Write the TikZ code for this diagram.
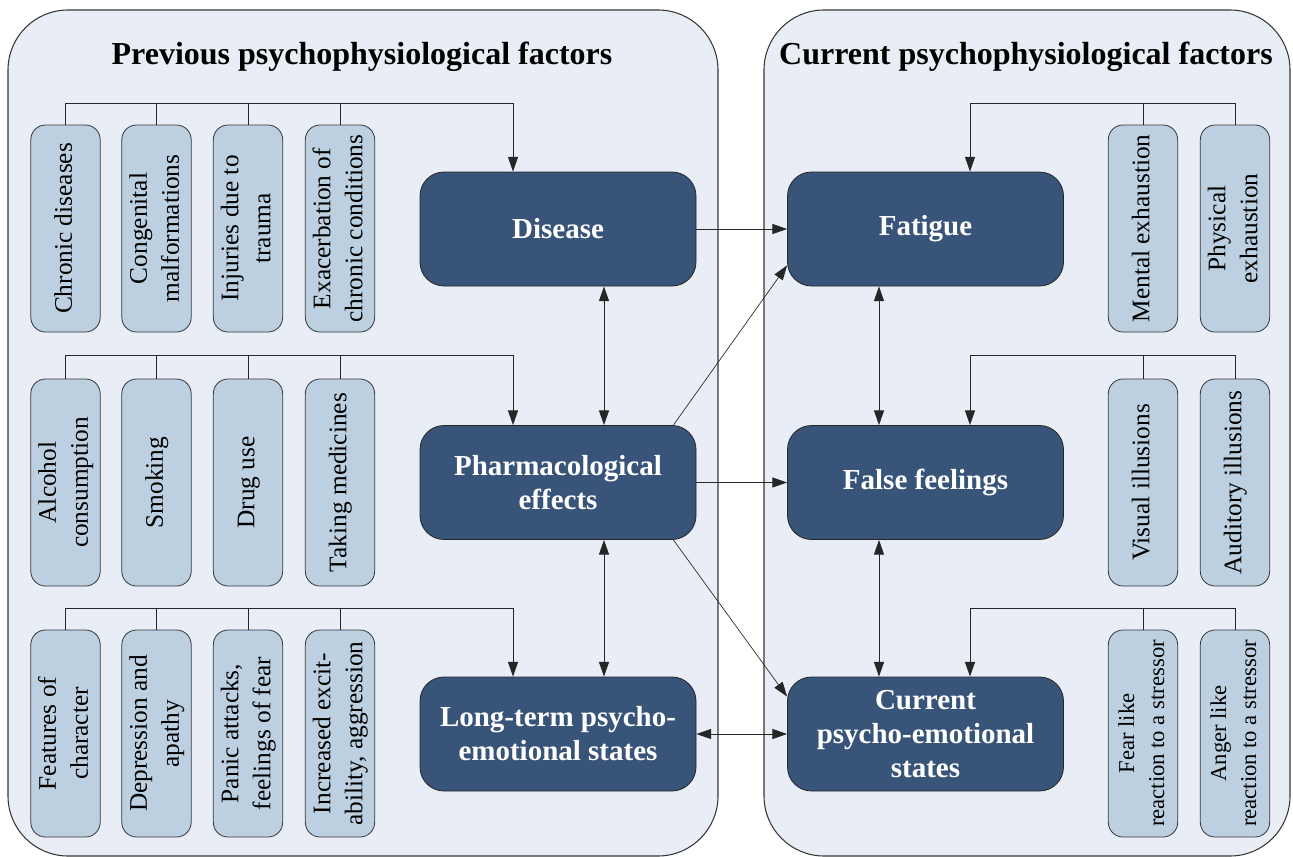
\documentclass[tikz,border=0pt]{standalone}
\usepackage{fontspec}
\setmainfont{Liberation Serif}
\usetikzlibrary{arrows.meta,calc}
\definecolor{panelfill}{RGB}{233,238,246}
\definecolor{darkfill}{RGB}{56,84,120}
\definecolor{lightfill}{RGB}{189,208,226}
\definecolor{edgecol}{RGB}{55,55,55}
\newcommand{\vtext}[1]{\rotatebox{90}{\begin{tabular}{@{}c@{}}#1\end{tabular}}}
\begin{document}
\begin{tikzpicture}[x=0.75pt,y=-0.75pt,
 panel/.style={draw=edgecol, line width=0.8pt, fill=panelfill, rounded corners=45pt},
 bigbox/.style={draw=black!85, line width=0.6pt, fill=darkfill, rounded corners=18pt,
   minimum width=207pt, minimum height=85.5pt, inner sep=0pt, align=center, text=white,
   font=\fontsize{21.75}{25.5}\selectfont\bfseries},
 smallbox/.style={draw=edgecol, line width=0.6pt, fill=lightfill, rounded corners=11pt,
   minimum width=52pt, minimum height=155.25pt, inner sep=0pt,
   font=\fontsize{19}{24}\selectfont},
 smallerbox/.style={smallbox, font=\fontsize{17}{22.5}\selectfont},
 conn/.style={draw=black!85, line width=0.7pt},
 arr/.style={conn, -{Triangle[length=11pt,width=7.5pt]}},
 darr/.style={conn, {Triangle[length=11pt,width=7.5pt]}-{Triangle[length=11pt,width=7.5pt]}},
 diag/.style={arr, line width=0.5pt},
 title/.style={font=\fontsize{24}{28}\selectfont\bfseries, anchor=base}
]
\useasboundingbox (0,0) rectangle (1293,857);
\fill[white] (0,0) rectangle (1293,857);
% panels
\draw[panel] (8,10) rectangle (718,856);
\draw[panel] (764,10) rectangle (1290,856);
\node[title] (t1) at (362,64) {Previous psychophysiological factors};
\node[title] (t2) at (1026,64) {Current psychophysiological factors};
% main boxes
\node[bigbox] (disease) at (558,229) {Disease};
\node[bigbox] (pharm) at (558,482.5) {Pharmacological\\effects};
\node[bigbox] (longterm) at (558,734) {Long-term psycho-\\emotional states};
\node[bigbox] (fatigue) at (925.5,229) {Fatigue};
\node[bigbox] (false) at (925.5,482.5) {False feelings};
\node[bigbox] (current) at (925.5,734) {Current\\psycho-emotional\\states};
% left small boxes
\node[smallbox] (c1) at (65.5,228.5) {\vtext{Chronic diseases}};
\node[smallbox] (c2) at (156.5,228.5) {\vtext{Congenital\\malformations}};
\node[smallbox] (c3) at (248,228.5) {\vtext{Injuries due to\\trauma}};
\node[smallbox] (c4) at (340,228.5) {\vtext{Exacerbation of\\chronic conditions}};
\node[smallbox] (p1) at (65.5,482.5) {\vtext{Alcohol\\consumption}};
\node[smallbox] (p2) at (156.5,482.5) {\vtext{Smoking}};
\node[smallbox] (p3) at (248,482.5) {\vtext{Drug use}};
\node[smallbox] (p4) at (340,482.5) {\vtext{Taking medicines}};
\node[smallbox] (l1) at (65.5,733.5) {\vtext{Features of\\character}};
\node[smallbox] (l2) at (156.5,733.5) {\vtext{Depression and\\apathy}};
\node[smallbox] (l3) at (248,733.5) {\vtext{Panic attacks,\\feelings of fear}};
\node[smallbox] (l4) at (340,733.5) {\vtext{Increased excit-\\ability, aggression}};
% right small boxes
\node[smallbox] (f1) at (1143,228.5) {\vtext{Mental exhaustion}};
\node[smallbox] (f2) at (1235,228.5) {\vtext{Physical\\exhaustion}};
\node[smallbox] (s1) at (1143,482.5) {\vtext{Visual illusions}};
\node[smallbox] (s2) at (1235,482.5) {\vtext{Auditory illusions}};
\node[smallerbox] (r1) at (1143,733.5) {\vtext{Fear like\\reaction to a stressor}};
\node[smallerbox] (r2) at (1235,733.5) {\vtext{Anger like\\reaction to a stressor}};
% bus coordinates
\coordinate (tb) at (513,103);
\coordinate (mb) at (513,355);
\coordinate (bb) at (513,608);
\coordinate (rtb) at (970,103);
\coordinate (rmb) at (970,355);
\coordinate (rbb) at (970,608);
\coordinate (lv) at (604,0);
\coordinate (rv) at (879,0);
% left buses
\draw[arr] (c1.north) |- (tb) -- (tb |- disease.north);
\foreach \n in {c2,c3,c4} \draw[conn] (\n.north) -- (\n.north |- tb);
\draw[arr] (p1.north) |- (mb) -- (mb |- pharm.north);
\foreach \n in {p2,p3,p4} \draw[conn] (\n.north) -- (\n.north |- mb);
\draw[arr] (l1.north) |- (bb) -- (bb |- longterm.north);
\foreach \n in {l2,l3,l4} \draw[conn] (\n.north) -- (\n.north |- bb);
% right buses
\draw[arr] (f2.north) |- (rtb) -- (rtb |- fatigue.north);
\draw[conn] (f1.north) -- (f1.north |- rtb);
\draw[arr] (s2.north) |- (rmb) -- (rmb |- false.north);
\draw[conn] (s1.north) -- (s1.north |- rmb);
\draw[arr] (r2.north) |- (rbb) -- (rbb |- current.north);
\draw[conn] (r1.north) -- (r1.north |- rbb);
% vertical double arrows
\draw[darr] (lv |- disease.south) -- (lv |- pharm.north);
\draw[darr] (lv |- pharm.south) -- (lv |- longterm.north);
\draw[darr] (rv |- fatigue.south) -- (rv |- false.north);
\draw[darr] (rv |- false.south) -- (rv |- current.north);
% horizontal
\draw[arr] (disease.east) -- (fatigue.west);
\draw[arr] (pharm.east) -- (false.west);
\draw[darr] (longterm.east) -- (current.west);
% diagonals
\draw[diag] ($(pharm.north east)+(-23,0)$) -- ($(fatigue.south west)+(0,-21)$);
\draw[diag] ($(pharm.south east)+(-23,0)$) -- ($(current.north west)+(0,20)$);
\end{tikzpicture}
\end{document}
